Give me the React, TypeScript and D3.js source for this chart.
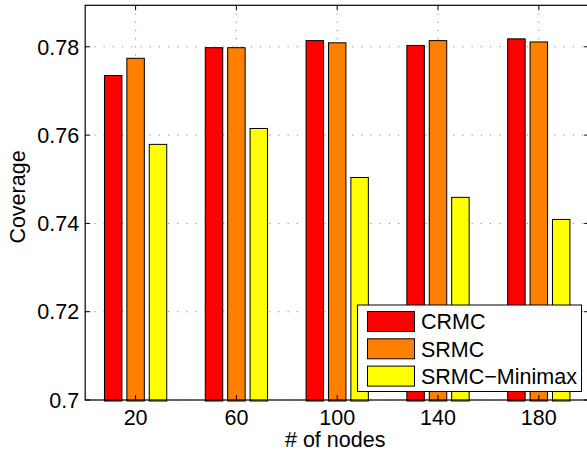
import React from "react";
import * as d3 from "d3";

const categories = ["20", "60", "100", "140", "180"];
const seriesNames = ["CRMC", "SRMC", "SRMC\u2212Minimax"];
const seriesColors = ["#ff0000", "#ff8000", "#ffff00"];
const crmc = [0.7735, 0.7798, 0.7814, 0.7803, 0.7818];
const srmc = [0.7774, 0.7798, 0.7809, 0.7814, 0.7811];
const minimax = [0.7579, 0.7615, 0.7504, 0.7459, 0.7409];
const yTicks = [0.7, 0.72, 0.74, 0.76, 0.78];
const yTickLabels = ["0.7", "0.72", "0.74", "0.76", "0.78"];

const W = 587;
const H = 456;
const left = 85.2;
const right = 589.2;
const top = 5.3;
const bottom = 400;
const font = "Liberation Sans, Arial, Helvetica, sans-serif";
const fs = 21.5;

export default function App() {
  const series = [crmc, srmc, minimax];
  const x = d3.scaleBand<string>().domain(categories).range([left, right]).padding(0);
  const inner = d3
    .scaleBand<number>()
    .domain([0, 1, 2])
    .range([-33.6, 33.6])
    .paddingInner(0.22)
    .paddingOuter(0.11);
  const y = d3.scaleLinear().domain([0.7, 0.7894]).range([bottom, top]);
  const grid = "#8a8a8a";
  const tickLen = 5;
  const ts = { fontFamily: font, fontSize: fs };

  return (
    <svg
      width={W}
      height={H}
      style={{ position: "absolute", left: 0, top: 0, background: "#fff" }}
    >
      <rect x={0} y={0} width={W} height={H} fill="#fff" />
      {yTicks.map((t, i) => (
        <line
          key={"gy" + i}
          x1={left}
          x2={right}
          y1={y(t)}
          y2={y(t)}
          stroke={grid}
          strokeWidth={1}
          strokeDasharray="1.2,8"
        />
      ))}
      {categories.map((c) => {
        const cx = (x(c) as number) + x.bandwidth() / 2;
        return (
          <line
            key={"gx" + c}
            x1={cx}
            x2={cx}
            y1={top}
            y2={bottom}
            stroke={grid}
            strokeWidth={1}
            strokeDasharray="1.2,7"
          />
        );
      })}
      {categories.map((c, ci) => {
        const cx = (x(c) as number) + x.bandwidth() / 2;
        return series.map((s, si) => {
          const bx = cx + (inner(si) as number);
          const by = y(s[ci]);
          return (
            <rect
              key={c + "-" + si}
              x={bx}
              y={by}
              width={inner.bandwidth()}
              height={bottom - by + 1}
              fill={seriesColors[si]}
              stroke="#000"
              strokeWidth={1}
            />
          );
        });
      })}
      <rect x={left} y={top} width={right - left} height={bottom - top} fill="none" stroke="#000" strokeWidth={1.2} />
      {yTicks.map((t, i) => (
        <g key={"yt" + i}>
          <line x1={left} x2={left + tickLen} y1={y(t)} y2={y(t)} stroke="#000" />
          <line x1={right} x2={right - tickLen} y1={y(t)} y2={y(t)} stroke="#000" />
          <text x={left - 6} y={y(t)} dy="0.36em" textAnchor="end" style={ts} fill="#000">
            {yTickLabels[i]}
          </text>
        </g>
      ))}
      {categories.map((c) => {
        const cx = (x(c) as number) + x.bandwidth() / 2;
        return (
          <g key={"xt" + c}>
            <line x1={cx} x2={cx} y1={bottom} y2={bottom - tickLen} stroke="#000" />
            <line x1={cx} x2={cx} y1={top} y2={top + tickLen} stroke="#000" />
            <text x={cx} y={424.5} textAnchor="middle" style={ts} fill="#000">
              {c}
            </text>
          </g>
        );
      })}
      <text x={(left + right) / 2 - 2} y={447} textAnchor="middle" style={ts} fill="#000">
        # of nodes
      </text>
      <text
        transform={`translate(25,197) rotate(-90)`}
        textAnchor="middle"
        style={ts}
        fill="#000"
      >
        Coverage
      </text>
      <g>
        <rect x={357.5} y={305} width={224} height={86.5} fill="#fff" stroke="#000" strokeWidth={1} />
        {seriesNames.map((n, i) => (
          <g key={"lg" + i}>
            <rect
              x={367.5}
              y={311.5 + i * 27.3}
              width={47}
              height={20}
              fill={seriesColors[i]}
              stroke="#000"
              strokeWidth={1}
            />
            <text x={421} y={321.5 + i * 27.3} dy="0.36em" style={ts} fill="#000">
              {n}
            </text>
          </g>
        ))}
      </g>
    </svg>
  );
}
